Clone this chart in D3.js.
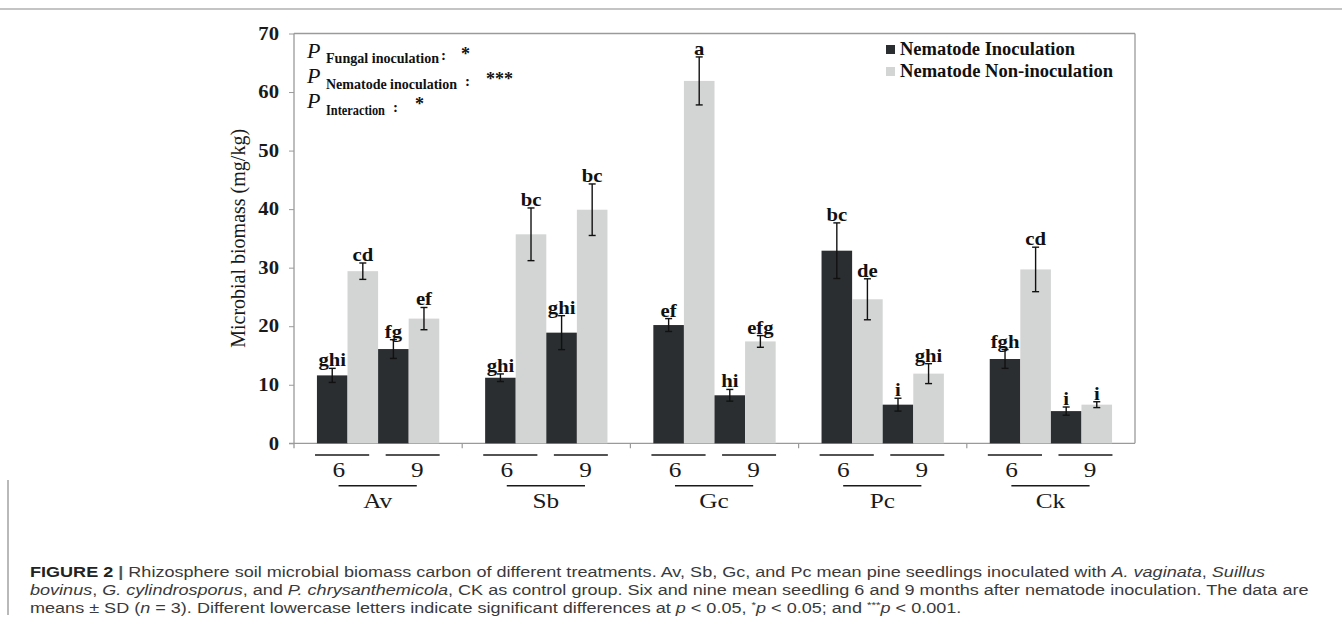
<!DOCTYPE html>
<html>
<head>
<meta charset="utf-8">
<script src="https://cdn.jsdelivr.net/npm/d3@7"></script>
<style>
  html, body { margin: 0; padding: 0; background: #fff; }
  svg { display: block; }
  .serif { font-family: "Liberation Serif", "Times New Roman", serif; }
  .cap { font-family: "Liberation Sans", Arial, sans-serif; fill: #3a3a3a; }
</style>
</head>
<body>
<svg id="chart" width="1342" height="625"></svg>
<script>
// Fungal treatments and sampling months
const groups = ["Av", "Sb", "Gc", "Pc", "Ck"];
const months = ["6", "9"];
const seriesNames = ["Nematode Inoculation", "Nematode Non-inoculation"];

// Microbial biomass (mg/kg), one value per group, 6 then 9 months
const inoc6 = [11.6, 11.2, 20.2, 32.9, 14.4];
const inoc9 = [16.1, 18.9, 8.2, 6.6, 5.5];
const non6 = [29.4, 35.7, 61.9, 24.6, 29.7];
const non9 = [21.3, 39.9, 17.4, 11.9, 6.6];

// Standard deviations
const sdInoc6 = [1.2, 0.65, 1.1, 4.75, 1.6];
const sdInoc9 = [1.6, 2.9, 1.0, 1.1, 0.7];
const sdNon6 = [1.4, 4.5, 4.1, 3.5, 3.8];
const sdNon9 = [1.9, 4.4, 1.0, 1.7, 0.5];

// Significance letters
const letInoc6 = ["ghi", "ghi", "ef", "bc", "fgh"];
const letInoc9 = ["fg", "ghi", "hi", "i", "i"];
const letNon6 = ["cd", "bc", "a", "de", "cd"];
const letNon9 = ["ef", "bc", "efg", "ghi", "i"];

const yTicks = [0, 10, 20, 30, 40, 50, 60, 70];

const colors = { I: "#2a2e30", N: "#d3d4d4" };

// Flatten into bar records: order within a group is 6-I, 6-N, 9-I, 9-N
const bars = [];
groups.forEach((g, i) => {
  bars.push({ g, key: "6-I", s: "I", v: inoc6[i], sd: sdInoc6[i], lab: letInoc6[i] });
  bars.push({ g, key: "6-N", s: "N", v: non6[i], sd: sdNon6[i], lab: letNon6[i] });
  bars.push({ g, key: "9-I", s: "I", v: inoc9[i], sd: sdInoc9[i], lab: letInoc9[i] });
  bars.push({ g, key: "9-N", s: "N", v: non9[i], sd: sdNon9[i], lab: letNon9[i] });
});

const svg = d3.select("#chart");
const plotL = 294, plotR = 1135, plotT = 33.5, plotB = 443.3;
const sx = 1.15; // horizontal widening of the serif chart text

const x = d3.scaleBand().domain(groups).range([plotL, plotR]).padding(0);
const xs = d3.scaleBand().domain(["6-I", "6-N", "9-I", "9-N"])
  .range([0, x.bandwidth()]).paddingInner(0).paddingOuter(0.75);
const y = d3.scaleLinear().domain([0, 70]).range([plotB, plotT]);
const bw = x.bandwidth();
const fx = (g, f) => x(g) + f * bw;

// Places a text at (px, py) and widens it horizontally about its anchor
function wideText(sel, px, py) {
  return sel.attr("transform", `translate(${px},${py}) scale(${sx},1)`);
}

// Figure frame lines
svg.append("line").attr("x1", 0).attr("x2", 1342).attr("y1", 9).attr("y2", 9)
  .attr("stroke", "#8a8a8a").attr("stroke-width", 1.2);
svg.append("line").attr("x1", 8).attr("x2", 8).attr("y1", 480).attr("y2", 615)
  .attr("stroke", "#8a8a8a").attr("stroke-width", 1.2);

// Y axis
const yAxis = d3.axisLeft(y).tickValues(yTicks).tickSize(5).tickPadding(10);
const ya = svg.append("g").attr("transform", `translate(${plotL},0)`).call(yAxis);
ya.select(".domain").remove();
ya.selectAll(".tick line").attr("stroke", "#9a9a9a");
ya.selectAll(".tick text").attr("class", "serif")
  .attr("transform", `translate(-15,0) scale(${sx},1)`).attr("x", 0)
  .style("font-size", "18px").style("font-weight", "bold").attr("fill", "#1a1a1a");

// Plot frame
const frameColor = "#9a9a9a";
svg.append("line").attr("x1", plotL).attr("x2", plotL).attr("y1", plotT).attr("y2", plotB + 5)
  .attr("stroke", frameColor).attr("stroke-width", 1.3);
svg.append("line").attr("x1", plotL).attr("x2", plotR).attr("y1", plotT).attr("y2", plotT)
  .attr("stroke", frameColor).attr("stroke-width", 1.3);
svg.append("line").attr("x1", plotR).attr("x2", plotR).attr("y1", plotT).attr("y2", plotB)
  .attr("stroke", frameColor).attr("stroke-width", 1.3);
svg.append("line").attr("x1", plotL - 5).attr("x2", plotR).attr("y1", plotB).attr("y2", plotB)
  .attr("stroke", frameColor).attr("stroke-width", 1.3);
// Group separator ticks
svg.selectAll("line.gtick").data(groups.slice(1)).enter().append("line")
  .attr("x1", d => x(d)).attr("x2", d => x(d))
  .attr("y1", plotB).attr("y2", plotB + 5)
  .attr("stroke", frameColor).attr("stroke-width", 1.2);

// Y axis title
svg.append("text").attr("class", "serif")
  .attr("transform", `translate(238,${(plotT + plotB) / 2}) rotate(-90)`)
  .attr("text-anchor", "middle").attr("dominant-baseline", "central")
  .style("font-size", "20px").attr("fill", "#1a1a1a")
  .text("Microbial biomass (mg/kg)");

// Bars
svg.selectAll("rect.bar").data(bars).enter().append("rect")
  .attr("x", d => x(d.g) + xs(d.key))
  .attr("width", xs.bandwidth())
  .attr("y", d => y(d.v))
  .attr("height", d => y(0) - y(d.v))
  .attr("fill", d => colors[d.s]);

// Error bars
const eb = svg.selectAll("g.err").data(bars).enter().append("g")
  .attr("transform", d => `translate(${x(d.g) + xs(d.key) + xs.bandwidth() / 2},0)`);
eb.append("line").attr("y1", d => y(d.v + d.sd)).attr("y2", d => y(d.v - d.sd))
  .attr("stroke", "#111").attr("stroke-width", 1.4);
eb.append("line").attr("x1", -3.5).attr("x2", 3.5)
  .attr("y1", d => y(d.v + d.sd)).attr("y2", d => y(d.v + d.sd))
  .attr("stroke", "#111").attr("stroke-width", 1.4);
eb.append("line").attr("x1", -3.5).attr("x2", 3.5)
  .attr("y1", d => y(d.v - d.sd)).attr("y2", d => y(d.v - d.sd))
  .attr("stroke", "#111").attr("stroke-width", 1.4);

// Significance letters
svg.selectAll("text.let").data(bars).enter().append("text").attr("class", "serif")
  .each(function(d) {
    wideText(d3.select(this), x(d.g) + xs(d.key) + xs.bandwidth() / 2, y(d.v + d.sd) - 2);
  })
  .attr("text-anchor", "middle")
  .style("font-size", "18px").style("font-weight", "bold").attr("fill", "#111")
  .text(d => d.lab);

// X labels: month lines and numbers, then group lines and names
const monthSpans = [[0.125, 0.447, 0.266], [0.545, 0.866, 0.733]];
groups.forEach(g => {
  months.forEach((m, j) => {
    const [a, b, c] = monthSpans[j];
    svg.append("line").attr("x1", fx(g, a)).attr("x2", fx(g, b))
      .attr("y1", 455).attr("y2", 455).attr("stroke", "#1a1a1a").attr("stroke-width", 1.5);
    wideText(svg.append("text").attr("class", "serif"), fx(g, c), 477)
      .attr("text-anchor", "middle").style("font-size", "22px").attr("fill", "#1a1a1a").text(m);
  });
  svg.append("line").attr("x1", fx(g, 0.265)).attr("x2", fx(g, 0.73))
    .attr("y1", 485.7).attr("y2", 485.7).attr("stroke", "#1a1a1a").attr("stroke-width", 1.5);
  wideText(svg.append("text").attr("class", "serif"), fx(g, 0.4975), 508)
    .attr("text-anchor", "middle").style("font-size", "22px").attr("fill", "#1a1a1a").text(g);
});

// Legend
const leg = svg.append("g");
[["I", 49, 55, 175], ["N", 71, 77, 213]].forEach(([s, sy, ty, tl], i) => {
  leg.append("rect").attr("x", 886).attr("y", sy - 4).attr("width", 9).attr("height", 9)
    .attr("fill", colors[s]);
  leg.append("text").attr("class", "serif").attr("x", 900).attr("y", ty)
    .attr("textLength", tl).attr("lengthAdjust", "spacingAndGlyphs")
    .style("font-size", "18px").style("font-weight", "bold").attr("fill", "#111")
    .text(seriesNames[i]);
});

// ANOVA annotation
const pRows = [
  { sub: "Fungal inoculation", len: 113, pY: 58, sY: 63, colX: 441, star: "*", starX: 461 },
  { sub: "Nematode inoculation", len: 131, pY: 83, sY: 89, colX: 465, star: "***", starX: 486 },
  { sub: "Interaction", len: 59, pY: 108, sY: 115, colX: 393, star: "*", starX: 415 }
];
pRows.forEach(r => {
  svg.append("text").attr("class", "serif").attr("x", 307).attr("y", r.pY)
    .style("font-size", "22px").style("font-style", "italic").attr("fill", "#111").text("P");
  svg.append("text").attr("class", "serif").attr("x", 326).attr("y", r.sY)
    .attr("textLength", r.len).attr("lengthAdjust", "spacingAndGlyphs")
    .style("font-size", "14px").style("font-weight", "bold").attr("fill", "#111").text(r.sub);
  svg.append("text").attr("class", "serif").attr("x", r.colX).attr("y", r.sY - 3)
    .style("font-size", "15px").style("font-weight", "bold").attr("fill", "#111").text(":");
  svg.append("text").attr("class", "serif").attr("x", r.starX).attr("y", r.pY + 2)
    .style("font-size", "18px").style("font-weight", "bold").attr("fill", "#111").text(r.star);
});

// Caption, with italic species names and raised significance stars
const capLines = [
  [["FIGURE 2", "b"], [" | ", "sep"], ["Rhizosphere soil microbial biomass carbon of different treatments. Av, Sb, Gc, and Pc mean pine seedlings inoculated with ", ""], ["A. vaginata", "i"], [", ", ""], ["Suillus", "i"]],
  [["bovinus", "i"], [", ", ""], ["G. cylindrosporus", "i"], [", and ", ""], ["P. chrysanthemicola", "i"], [", CK as control group. Six and nine mean seedling 6 and 9 months after nematode inoculation. The data are", ""]],
  [["means ± SD (", ""], ["n", "i"], [" = 3). Different lowercase letters indicate significant differences at ", ""], ["p", "i"], [" < 0.05, ", ""], ["*", "sup"], ["p", "i"], [" < 0.05; and ", ""], ["***", "sup"], ["p", "i"], [" < 0.001.", ""]]
];
const capY = [577, 595, 613];
const capX = 30, capLine1End = 1265;
const capNodes = capLines.map((parts, i) => {
  const t = svg.append("text").attr("class", "cap").attr("x", capX).attr("y", capY[i])
    .style("font-size", "14px");
  let raised = false;
  parts.forEach(([txt, st]) => {
    const ts = t.append("tspan").text(txt);
    if (st === "b") ts.style("font-weight", "bold").attr("fill", "#222");
    if (st === "i") ts.style("font-style", "italic");
    if (st === "sep") ts.style("font-weight", "bold").attr("fill", "#555");
    if (st === "sup") { ts.style("font-size", "9px").attr("dy", -5); raised = true; }
    else if (raised) { ts.attr("dy", 5); raised = false; }
  });
  return t;
});
// Widen every caption line by the same factor so the first line reaches its end point
const widen = (capLine1End - capX) / capNodes[0].node().getComputedTextLength();
capNodes.forEach(t => {
  const w = t.node().getComputedTextLength();
  t.attr("textLength", w * widen).attr("lengthAdjust", "spacingAndGlyphs");
});
</script>
</body>
</html>
